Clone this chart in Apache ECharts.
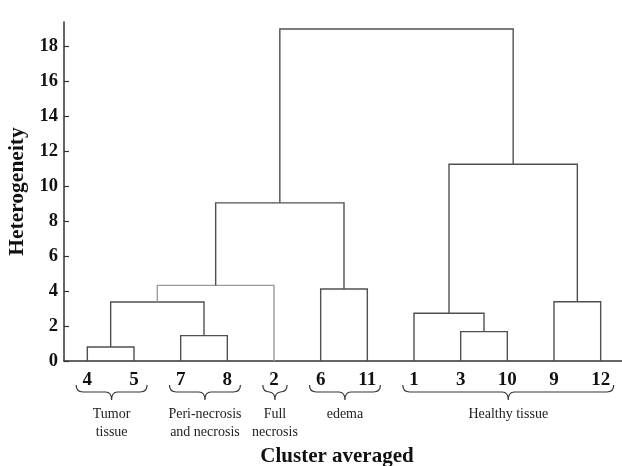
<!DOCTYPE html>
<html>
<head>
<meta charset="utf-8">
<script src="https://cdn.jsdelivr.net/npm/echarts@6/dist/echarts.min.js"></script>
<style>html,body{margin:0;padding:0;background:#fff}#c{width:622px;height:466px}</style>
</head>
<body>
<div id="c"></div>
<script>
// Leaves in dendrogram order (cluster ids shown on the x axis)
var leafLabels = ['4', '5', '7', '8', '2', '6', '11', '1', '3', '10', '9', '12'];
// Merges: node ids 0..11 are leaves (by position), 12.. are merges in this order
var mergeLeft   = [0, 2, 12, 14, 5, 15, 8, 7, 10, 19, 17];
var mergeRight  = [1, 3, 13, 4, 6, 16, 9, 18, 11, 20, 21];
var mergeHeight = [0.80, 1.45, 3.38, 4.33, 4.12, 9.05, 1.68, 2.73, 3.39, 11.26, 19.0];
// Tissue groups (first leaf position, last leaf position, label)
var groupStart = [0, 2, 4, 5, 7];
var groupEnd   = [1, 3, 4, 6, 11];
var groupNames = ['Tumor\ntissue', 'Peri-necrosis\nand necrosis', 'Full\nnecrosis', 'edema', 'Healthy tissue'];
var yTicks = [0, 2, 4, 6, 8, 10, 12, 14, 16, 18];

var SERIF = '"Liberation Serif", "Times New Roman", serif';

// build link rows from the merge arrays
var nLeaf = leafLabels.length;
var nodeX = [], nodeH = [];
for (var i = 0; i < nLeaf; i++) { nodeX.push(i); nodeH.push(0); }
var links = [];
for (var m = 0; m < mergeHeight.length; m++) {
  var l = mergeLeft[m], r = mergeRight[m], h = mergeHeight[m];
  links.push([nodeX[l], nodeH[l], nodeX[r], nodeH[r], h]);
  nodeX.push((nodeX[l] + nodeX[r]) / 2);
  nodeH.push(h);
}
var groups = [];
for (var g = 0; g < groupNames.length; g++) groups.push([groupStart[g], groupEnd[g]]);

var chart = echarts.init(document.getElementById('c'));
chart.setOption({
  animation: false,
  backgroundColor: '#fff',
  grid: { left: 64, right: -2, top: 22, bottom: 105, containLabel: false, outerBoundsMode: 'none' },
  xAxis: {
    type: 'value', min: -0.5, max: 11.5,
    axisLine: { show: true, onZero: false, lineStyle: { color: '#333', width: 1.5 } },
    axisTick: { show: false },
    splitLine: { show: false },
    axisLabel: {
      customValues: leafLabels.map(function (d, i) { return i; }),
      formatter: function (v) { return leafLabels[Math.round(v)]; },
      fontFamily: SERIF, fontWeight: 'bold', fontSize: 19, color: '#111', margin: 10
    },
    name: 'Cluster averaged', nameLocation: 'middle', nameGap: 85,
    nameTextStyle: { fontFamily: SERIF, fontWeight: 'bold', fontSize: 21, color: '#111', padding: [0, 14, 0, 0] }
  },
  yAxis: {
    type: 'value', min: 0, max: 19.4,
    axisLine: { show: true, onZero: false, lineStyle: { color: '#333', width: 1.5 } },
    axisTick: { show: true, inside: true, length: 5, customValues: yTicks, lineStyle: { color: '#333', width: 1.2 } },
    splitLine: { show: false },
    axisLabel: {
      customValues: yTicks,
      fontFamily: SERIF, fontWeight: 'bold', fontSize: 18.5, color: '#111', margin: 6
    },
    name: 'Heterogeneity', nameLocation: 'middle', nameGap: 33,
    nameTextStyle: { fontFamily: SERIF, fontWeight: 'bold', fontSize: 21.5, color: '#111', padding: [10, 0, 0, 0] }
  },
  series: [
    {
      type: 'custom',
      data: links,
      clip: false,
      renderItem: function (params, api) {
        var p1 = api.coord([api.value(0), api.value(1)]);
        var p2 = api.coord([api.value(0), api.value(4)]);
        var p3 = api.coord([api.value(2), api.value(4)]);
        var p4 = api.coord([api.value(2), api.value(3)]);
        var light = params.dataIndex === 3;
        return {
          type: 'polyline',
          shape: { points: [p1, p2, p3, p4] },
          style: { fill: null, stroke: light ? '#9a9a9a' : '#505050', lineWidth: 1.4 }
        };
      }
    },
    {
      type: 'custom',
      data: groups,
      clip: false,
      renderItem: function (params, api) {
        var a = api.coord([api.value(0), 0]);
        var b = api.coord([api.value(1), 0]);
        var bw = api.size([1, 0])[0];
        var x0 = a[0] - 0.24 * bw, x1 = b[0] + 0.28 * bw;
        var xc = (x0 + x1) / 2;
        var base = a[1];
        var yt = base + 24, yb = base + 31, ytip = base + 39;
        var path = 'M' + x0 + ',' + yt +
          ' Q' + x0 + ',' + yb + ' ' + (x0 + 7) + ',' + yb +
          ' L' + (xc - 6) + ',' + yb +
          ' Q' + xc + ',' + yb + ' ' + xc + ',' + ytip +
          ' Q' + xc + ',' + yb + ' ' + (xc + 6) + ',' + yb +
          ' L' + (x1 - 7) + ',' + yb +
          ' Q' + x1 + ',' + yb + ' ' + x1 + ',' + yt;
        return {
          type: 'group',
          children: [
            { type: 'path', shape: { pathData: path }, style: { fill: null, stroke: '#333', lineWidth: 1.2 } },
            { type: 'text', style: {
                text: groupNames[params.dataIndex], x: xc, y: base + 44,
                align: 'center', verticalAlign: 'top',
                font: '14px ' + SERIF, fill: '#222', lineHeight: 18
              } }
          ]
        };
      }
    }
  ]
});
</script>
</body>
</html>
